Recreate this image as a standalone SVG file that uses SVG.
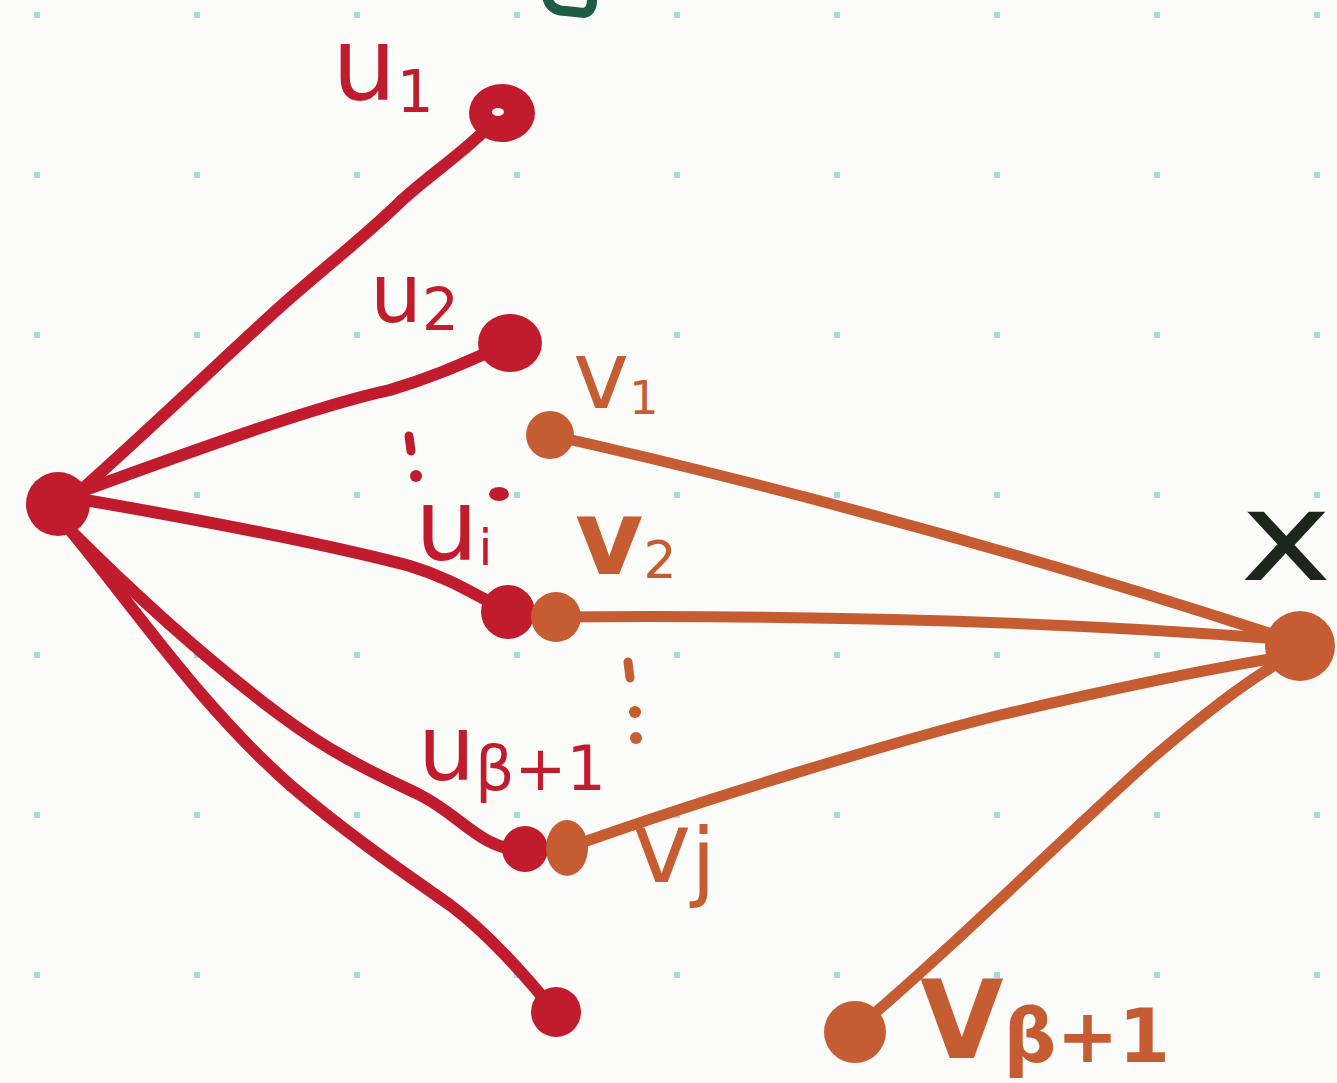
<svg xmlns="http://www.w3.org/2000/svg" width="1337" height="1083" viewBox="0 0 1337 1083">
<defs>
<pattern id="grid" x="0" y="0" width="160" height="160" patternUnits="userSpaceOnUse">
<rect x="34" y="12" width="6" height="6" fill="#a6d6f0"/>
</pattern>
<style>
.r{fill:none;stroke:#c01c2d;stroke-width:12;stroke-linecap:round;stroke-linejoin:round}
.o{fill:none;stroke:#c65c31;stroke-width:11;stroke-linecap:round;stroke-linejoin:round}
.rn{fill:#c01c2d}
.on{fill:#c65c31}
.lab{font-family:"DejaVu Sans","Liberation Sans",sans-serif}
.lr{fill:#c01c2d}
.lo{fill:#c65c31}
.rd{stroke:#c01c2d;stroke-width:9;stroke-linecap:round}
.od{stroke:#c65c31;stroke-width:9;stroke-linecap:round}
</style>
</defs>
<rect width="1337" height="1083" fill="#fbfbfa"/>
<rect width="1337" height="1083" fill="url(#grid)"/>
<path d="M548,0 Q552,11 566,11 L584,13 Q592,11 592,0" fill="none" stroke="#1d5c45" stroke-width="10" stroke-linecap="round"/>
<g id="connectors">
<path class="r" d="M78,493 C160,420 230,352 280,307 C330,263 370,232 400,202 C430,174 465,152 490,125"/>
<path class="r" d="M85,490 C200,448 320,405 390,390 C440,375 470,360 505,345"/>
<path class="r" d="M85,500 C200,520 330,545 410,566 C450,578 475,595 505,610"/>
<path class="r" d="M70,530 C130,590 200,655 280,715 C340,760 390,780 420,795 C460,815 480,848 520,850"/>
<path class="r" d="M70,530 C140,615 200,705 290,785 C345,832 400,870 450,905 C490,935 525,975 555,1012" stroke-width="13"/>
<path class="o" d="M550,435 C750,480 1000,545 1290,640"/>
<path class="o" d="M555,617 C800,615 1050,620 1290,640"/>
<path class="o" d="M567,848 C700,800 900,740 1000,715 C1150,680 1230,665 1295,655"/>
<path class="o" d="M855,1030 C950,950 1050,850 1150,760 C1220,700 1270,665 1295,655"/>
</g>
<g id="hub"><circle class="rn" cx="58" cy="504" r="32"/></g>
<g id="u1"><ellipse class="rn" cx="502" cy="113" rx="33" ry="29"/><ellipse cx="498" cy="112" rx="6" ry="4" fill="#fbfbfa"/>
<text class="lab lr" x="332" y="100" font-size="102">u<tspan font-size="58" dy="12">1</tspan></text></g>
<g id="u2"><ellipse class="rn" cx="510" cy="343" rx="32" ry="29"/>
<text class="lab lr" x="370" y="322" font-size="82">u<tspan font-size="58" dy="8">2</tspan></text></g>
<g id="ui"><circle class="rn" cx="508" cy="612" r="27"/>
<line class="rd" x1="409" y1="436" x2="411" y2="451"/><circle class="rn" cx="416" cy="476" r="6"/>
<ellipse class="rn" cx="499" cy="494" rx="10" ry="7"/>
<text class="lab lr" x="415" y="560" font-size="100">u<tspan font-size="50" dy="5">i</tspan></text></g>
<g id="ubeta1"><circle class="rn" cx="525" cy="849" r="23"/>
<text class="lab lr" x="418" y="780" font-size="90">u<tspan font-size="62" dy="10">β+1</tspan></text></g>
<g id="ulast"><circle class="rn" cx="556" cy="1012" r="25"/></g>
<g id="v1"><circle class="on" cx="550" cy="435" r="24"/>
<text class="lab lo" x="573" y="408" font-size="95">v<tspan font-size="46" dy="6">1</tspan></text></g>
<g id="v2"><circle class="on" cx="556" cy="617" r="25"/>
<text class="lab lo" x="575" y="574" font-size="105" font-weight="bold">v<tspan font-size="52" dy="4" font-weight="normal">2</tspan></text></g>
<g id="vj"><ellipse class="on" cx="567" cy="848" rx="21" ry="28"/>
<line class="od" x1="628" y1="662" x2="630" y2="678"/><circle class="on" cx="635" cy="712" r="6"/><circle class="on" cx="636" cy="738" r="6"/>
<text class="lab lo" x="632" y="882" font-size="100">v<tspan font-size="88" dy="8">j</tspan></text></g>
<g id="vbeta1"><circle class="on" cx="855" cy="1032" r="31"/>
<text class="lab lo" x="920" y="1058" font-size="108" font-weight="bold">V<tspan font-size="74" dy="4">β+1</tspan></text></g>
<g id="x"><circle class="on" cx="1300" cy="646" r="35"/>
<text class="lab" fill="#1b261c" x="1240" y="580" font-size="125" textLength="92" lengthAdjust="spacingAndGlyphs">x</text></g>
</svg>
